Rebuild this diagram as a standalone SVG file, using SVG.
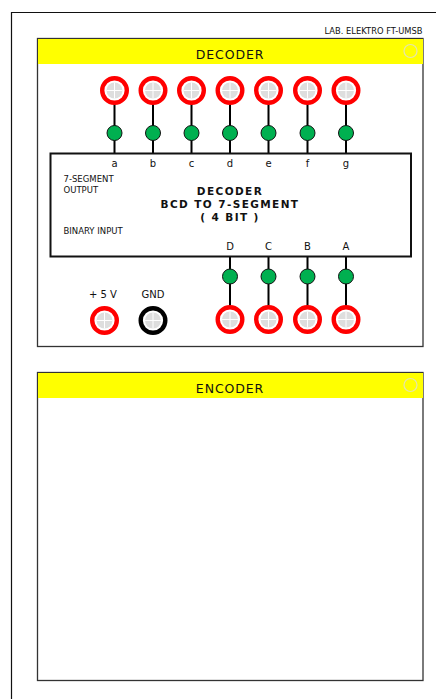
<svg xmlns="http://www.w3.org/2000/svg" xmlns:xlink="http://www.w3.org/1999/xlink" width="436" height="699" viewBox="0 0 436 699">
<style>
text{font-family:"DejaVu Sans",Verdana,sans-serif;fill:#111}
.s{font-size:8.5px}
.l{font-size:10px;text-anchor:middle}
.t{font-size:12.5px;text-anchor:middle;letter-spacing:.9px}
.b{font-size:10.5px;font-weight:bold;text-anchor:middle;letter-spacing:1.4px}
.panel{fill:#fff;stroke:#333;stroke-width:1.3}
.wire{stroke:#000;stroke-width:2;fill:none}
.led{fill:#00b050;stroke:#111;stroke-width:1}
.cross{stroke:#fff;stroke-width:1}
</style>
<defs>
<g id="hole"><circle r="8" fill="#dedede"/><path class="cross" d="M-8 0H8M0-8V8"/></g>
<g id="red"><circle r="12.3" fill="#fff" stroke="#f00" stroke-width="4.4"/><use xlink:href="#hole" href="#hole"/></g>
<g id="blk"><circle r="12.3" fill="#fff" stroke="#000" stroke-width="4.4"/><use xlink:href="#hole" href="#hole"/></g>
</defs>
<rect width="436" height="699" fill="#fff"/>
<path id="frame" d="M11.5 699V12.5H436" fill="none" stroke="#111" stroke-width="1.2"/>
<text class="s" x="422.5" y="34" text-anchor="end" textLength="98" lengthAdjust="spacingAndGlyphs">LAB. ELEKTRO FT-UMSB</text>
<g id="decoder-panel">
<rect class="panel" x="37.5" y="38.5" width="385.5" height="308"/>
<rect x="38" y="39" width="385" height="25" fill="#ff0"/>
<text class="t" x="230" y="59">DECODER</text>
<circle cx="410.5" cy="51" r="6.5" fill="none" stroke="#e4e4b0" stroke-width="1.2"/>
</g>
<g id="encoder-panel">
<rect class="panel" x="37.5" y="372.5" width="385.5" height="308"/>
<rect x="38" y="373" width="385" height="25" fill="#ff0"/>
<text class="t" x="230" y="393">ENCODER</text>
<circle cx="410.5" cy="385" r="6.5" fill="none" stroke="#e4e4b0" stroke-width="1.2"/>
</g>
<g id="connectors">
<path class="wire" d="M114.5 90V154M153 90V154M191.5 90V154M230 90V154M268.5 90V154M307.5 90V154M346 90V154"/>
<path class="wire" d="M230 256V320M268.5 256V320M307.5 256V320M346 256V320"/>
</g>
<g id="chip">
<rect x="50.5" y="153.5" width="360.5" height="103" fill="#fff" stroke="#111" stroke-width="2"/>
<text class="s" x="63.5" y="182">7-SEGMENT</text>
<text class="s" x="63.5" y="193">OUTPUT</text>
<text class="s" x="63.5" y="234">BINARY INPUT</text>
<text class="b" x="230" y="195">DECODER</text>
<text class="b" x="230" y="208">BCD TO 7-SEGMENT</text>
<text class="b" x="230" y="221">( 4 BIT )</text>
</g>
<g id="out-a"><use xlink:href="#red" href="#red" x="114.5" y="90.5"/><circle class="led" cx="114.5" cy="133" r="7.5"/><text class="l" x="114.5" y="167">a</text></g>
<g id="out-b"><use xlink:href="#red" href="#red" x="153" y="90.5"/><circle class="led" cx="153" cy="133" r="7.5"/><text class="l" x="153" y="167">b</text></g>
<g id="out-c"><use xlink:href="#red" href="#red" x="191.5" y="90.5"/><circle class="led" cx="191.5" cy="133" r="7.5"/><text class="l" x="191.5" y="167">c</text></g>
<g id="out-d"><use xlink:href="#red" href="#red" x="230" y="90.5"/><circle class="led" cx="230" cy="133" r="7.5"/><text class="l" x="230" y="167">d</text></g>
<g id="out-e"><use xlink:href="#red" href="#red" x="268.5" y="90.5"/><circle class="led" cx="268.5" cy="133" r="7.5"/><text class="l" x="268.5" y="167">e</text></g>
<g id="out-f"><use xlink:href="#red" href="#red" x="307.5" y="90.5"/><circle class="led" cx="307.5" cy="133" r="7.5"/><text class="l" x="307.5" y="167">f</text></g>
<g id="out-g"><use xlink:href="#red" href="#red" x="346" y="90.5"/><circle class="led" cx="346" cy="133" r="7.5"/><text class="l" x="346" y="167">g</text></g>
<g id="in-d"><use xlink:href="#red" href="#red" x="230" y="319.5"/><circle class="led" cx="230" cy="276.5" r="7.5"/><text class="l" x="230" y="250">D</text></g>
<g id="in-c"><use xlink:href="#red" href="#red" x="268.5" y="319.5"/><circle class="led" cx="268.5" cy="276.5" r="7.5"/><text class="l" x="268.5" y="250">C</text></g>
<g id="in-b"><use xlink:href="#red" href="#red" x="307.5" y="319.5"/><circle class="led" cx="307.5" cy="276.5" r="7.5"/><text class="l" x="307.5" y="250">B</text></g>
<g id="in-a"><use xlink:href="#red" href="#red" x="346" y="319.5"/><circle class="led" cx="346" cy="276.5" r="7.5"/><text class="l" x="346" y="250">A</text></g>
<g id="vcc"><use xlink:href="#red" href="#red" x="104.5" y="320.5"/><text class="l" x="103" y="298">+ 5 V</text></g>
<g id="gnd"><use xlink:href="#blk" href="#blk" x="153" y="320.5"/><text class="l" x="153" y="298">GND</text></g>
</svg>
